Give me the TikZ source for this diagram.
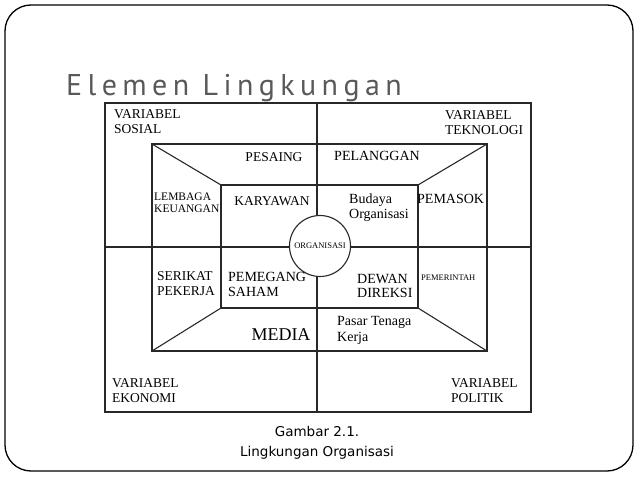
\documentclass[tikz,border=0pt]{standalone}
\usepackage{fontspec}
\setmainfont{Liberation Serif}
\newfontfamily\capfont{DejaVu Sans}
\newfontfamily\titlefont[LetterSpace=18]{PT Sans}
\definecolor{titlegray}{RGB}{89,89,89}
\definecolor{linegray}{RGB}{40,40,40}
\tikzset{
  garis/.style={line width=1.1pt, draw=linegray},
  teks/.style={inner sep=0pt, align=left, font=\fontsize{13.5}{15}\selectfont},
}

\begin{document}
\begin{tikzpicture}[x=1pt, y=-1pt]
\useasboundingbox (0,0) rectangle (638,479);

% Slide frame and title
\draw[line width=1.3pt, rounded corners=26pt] (5,5) rectangle (633,471);
\node[anchor=base west, inner sep=0pt, text=titlegray, font=\titlefont\fontsize{30}{30}\selectfont] (judul) at (66,95) {Elemen Lingkungan};

% Outer box and the two axes
\draw[garis] (105,103) rectangle (531,412);
\draw[garis] (317,103) -- (317,412);
\draw[garis] (105,247) -- (531,247);

% Middle frame, inner frame and the corner lines
\draw[garis] (152,144) rectangle (487,351);
\draw[garis] (221,185) rectangle (418,308);
\draw[garis] (152,144) -- (221,185);
\draw[garis] (487,144) -- (418,185);
\draw[garis] (152,351) -- (221,308);
\draw[garis] (487,351) -- (418,308);

% Organisation in the centre
\node[garis, circle, fill=white, minimum size=61pt, inner sep=0pt, font=\fontsize{8.5}{9}\selectfont] (org) at (320,246) {ORGANISASI};

% Corner variables
\node[teks, anchor=west] (sosial) at (114,122) {VARIABEL\\SOSIAL};
\node[teks, anchor=west] (teknologi) at (445,123) {VARIABEL\\TEKNOLOGI};
\node[teks, anchor=west] (ekonomi) at (112,391) {VARIABEL\\EKONOMI};
\node[teks, anchor=west] (politik) at (451,391) {VARIABEL\\POLITIK};

% External elements
\node[teks] (pesaing) at (274,157) {PESAING};
\node[teks, font=\fontsize{14}{15}\selectfont] (pelanggan) at (377,156) {PELANGGAN};
\node[teks, anchor=west, font=\fontsize{11.5}{12}\selectfont] (lembaga) at (154,203) {LEMBAGA\\KEUANGAN};
\node[teks, anchor=west, font=\fontsize{14}{15}\selectfont] (pemasok) at (417,199) {PEMASOK};
\node[teks, anchor=west] (serikat) at (157,284) {SERIKAT\\PEKERJA};
\node[teks, anchor=west, font=\fontsize{8.5}{9}\selectfont] (pemerintah) at (421,278) {PEMERINTAH};
\node[teks, font=\fontsize{18}{18}\selectfont] (media) at (281,335) {MEDIA};
\node[teks, anchor=west, font=\fontsize{14}{16}\selectfont] (pasar) at (337,330) {Pasar Tenaga\\Kerja};

% Internal elements
\node[teks] (karyawan) at (272,201) {KARYAWAN};
\node[teks, anchor=west, font=\fontsize{14}{15}\selectfont] (budaya) at (349,208) {Budaya\\Organisasi};
\node[teks, anchor=west, font=\fontsize{14}{15}\selectfont] (pemegang) at (228,284) {PEMEGANG\\SAHAM};
\node[teks, anchor=west, font=\fontsize{14}{14.5}\selectfont] (dewan) at (357,286) {DEWAN\\DIREKSI};

% Caption
\node[inner sep=0pt, align=center, font=\capfont\fontsize{13.5}{20}\selectfont] (gambar) at (317,443) {Gambar 2.1.\\Lingkungan Organisasi};
\end{tikzpicture}
\end{document}
